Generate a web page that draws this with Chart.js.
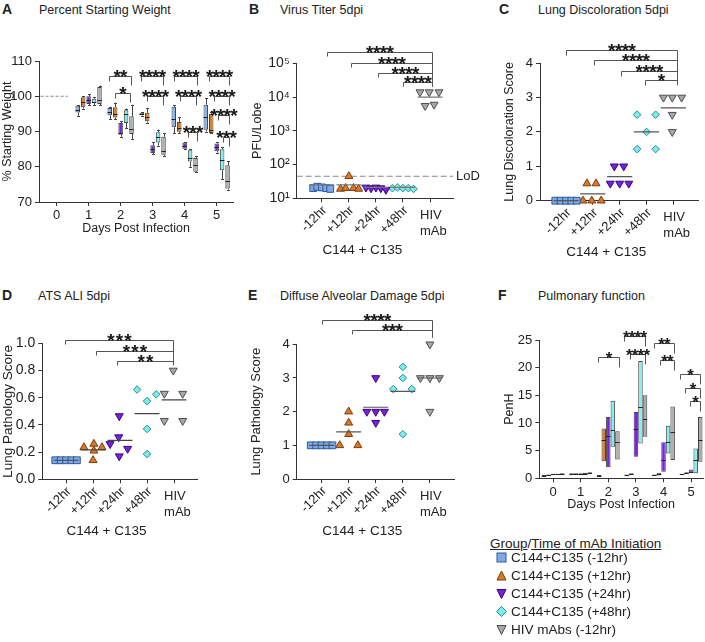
<!DOCTYPE html>
<html>
<head>
<meta charset="utf-8">
<script src="https://cdn.jsdelivr.net/npm/chart.js@4.4.0/dist/chart.umd.min.js"></script>
<style>
  body { margin: 0; background: #fff; width: 705px; height: 642px; position: relative; overflow: hidden;
         font-family: "Liberation Sans", Arial, Helvetica, sans-serif; color: #222; }
  canvas { position: absolute; }
  .letter { position: absolute; font-weight: bold; font-size: 14px; line-height: 16px; }
  .title { position: absolute; font-size: 12.5px; line-height: 16px; }
  #legend { position: absolute; left: 490px; top: 536px; font-size: 13.5px; }
  #legend .head { line-height: 16px; margin-bottom: -3px; }
  #legend .row { height: 17.9px; line-height: 17.9px; white-space: nowrap; }
  #legend svg { vertical-align: -1px; margin: 0 4px 0 6px; }
</style>
</head>
<body>
<div class="letter" style="left:2px;top:1px">A</div><div class="title" style="left:39px;top:2px">Percent Starting Weight</div>
<div class="letter" style="left:249px;top:1px">B</div><div class="title" style="left:280px;top:2px">Virus Titer 5dpi</div>
<div class="letter" style="left:499px;top:1px">C</div><div class="title" style="left:538px;top:2px">Lung Discoloration 5dpi</div>
<div class="letter" style="left:2px;top:287px">D</div><div class="title" style="left:38px;top:288px">ATS ALI 5dpi</div>
<div class="letter" style="left:248px;top:287px">E</div><div class="title" style="left:280px;top:288px">Diffuse Alveolar Damage 5dpi</div>
<div class="letter" style="left:498px;top:287px">F</div><div class="title" style="left:538px;top:288px">Pulmonary function</div>

<canvas id="chartA"></canvas>
<canvas id="chartB"></canvas>
<canvas id="chartC"></canvas>
<canvas id="chartD"></canvas>
<canvas id="chartE"></canvas>
<canvas id="chartF"></canvas>

<div id="legend">
  <div class="head"><u>Group</u>/<u>Time of mAb Initiation</u></div>
  <div id="legendRows"></div>
</div>

<script>
// ---------- shared labels ----------
const groupNames = ['C144+C135 (-12hr)', 'C144+C135 (+12hr)', 'C144+C135 (+24hr)', 'C144+C135 (+48hr)', 'HIV mAbs (-12hr)'];
const categories = ['-12hr', '+12hr', '+24hr', '+48hr', 'HIV\nmAb'];
const categoryCaption = 'C144 + C135';
const dayTicks = [0, 1, 2, 3, 4, 5];

// ---------- A: percent starting weight, [min, q1, median, q3, max] for days 1-5 ----------
const weightDays = [1, 2, 3, 4, 5];
const weightNeg12 = [[94.5, 95.4, 96, 97.3, 97.5], [93.5, 94.6, 95.4, 96.7, 97], [94.5, 94.6, 95, 95.3, 95.5], [89.5, 91.2, 93.5, 97, 97.5], [90, 90.5, 94, 97.6, 99.5]];
const weightPos12 = [[96.5, 96.9, 98.5, 99.7, 100], [93.5, 94, 95, 96.9, 98.2], [92.5, 92.9, 94, 95.3, 96.7], [89.5, 89.9, 91, 92.7, 94], [89.5, 89.6, 90.5, 95, 95.5]];
const weightPos24 = [[97.5, 97.8, 98.8, 100, 100.5], [88.5, 89.1, 89.5, 92.4, 93], [83.5, 83.9, 85, 86.1, 87], [85, 85.1, 86, 86.9, 87], [84, 84.4, 85.5, 86.6, 87]];
const weightPos48 = [[97.5, 98.1, 98.5, 99.3, 99.8], [91, 92.4, 95, 96, 96.5], [86, 86.9, 88.5, 89.8, 90.5], [80, 81.5, 82.5, 84.7, 85], [76.5, 79, 82, 85, 85.5]];
const weightHIV = [[97.5, 97.8, 99, 102.6, 103], [87.9, 89.3, 90.7, 94.3, 97.6], [83, 83.4, 84.5, 88.5, 89.5], [78.4, 78.6, 80.5, 82.5, 83], [73.5, 73.8, 76, 80.4, 81.5]];
const weightTicks = [70, 80, 90, 100, 110];
const weightBaseline = 100;
// significance: [from day position, to day position, y, stars]
const weightSig = [
  [1.63, 2.31, 105.7, '**'], [1.82, 2.29, 100.8, '*'],
  [2.63, 3.32, 105.7, '****'], [2.81, 3.33, 100.0, '****'],
  [3.66, 4.38, 105.7, '****'], [3.85, 4.35, 100.0, '****'], [4.09, 4.40, 89.9, '***'],
  [4.76, 5.40, 105.7, '****'], [4.92, 5.40, 100.2, '****'], [5.04, 5.40, 94.8, '****'], [5.20, 5.40, 88.4, '***']
];

// ---------- B: virus titer (PFU/lobe) ----------
const titerValues = [
  [20, 22, 21, 20, 19],
  [19, 20, 45, 20, 19],
  [21, 20, 21, 20, 18],
  [20, 21, 20, 20, 19],
  [14000, 14000, 14000, 5500, 6000]
];
const titerMeans = [25, 25, 21, 21, 10000];
const titerTicks = [10, 100, 1000, 10000, 100000];
const titerLoD = 45;
const titerSig = [[0.18, 4.06, 10 ** 5.32, '****'], [1.08, 4.06, 10 ** 5.0, '****'], [2.06, 4.06, 10 ** 4.72, '****'], [2.99, 4.06, 10 ** 4.46, '****']];

// ---------- C: lung discoloration score ----------
const discolValues = [
  [0, 0, 0, 0, 0],
  [0, 0.5, 0, 0.5, 0],
  [0.5, 1, 0.5, 1, 0.5],
  [2.5, 1.5, 2, 2.5, 1.5],
  [3, 3, 3, 2.5, 2]
];
const discolMeans = [0, 0.2, 0.7, 2.0, 2.7];
const discolTicks = [0, 1, 2, 3, 4];
const discolSig = [[0, 4.13, 4.37, '****'], [1.04, 4.13, 4.1, '****'], [2.05, 4.13, 3.78, '****'], [2.94, 4.13, 3.5, '*']];

// ---------- D: ATS ALI score ----------
const aliValues = [
  [0.14, 0.14, 0.14, 0.14, 0.14],
  [0.235, 0.26, 0.21, 0.235, 0.14],
  [0.465, 0.31, 0.26, 0.225, 0.17],
  [0.66, 0.575, 0.625, 0.37, 0.186],
  [0.8, 0.63, 0.63, 0.43, 0.43]
];
const aliMeans = [0.14, 0.216, 0.286, 0.483, 0.584];
const aliTicks = [0, 0.2, 0.4, 0.6, 0.8, 1.0];
const aliSig = [[-0.04, 3.97, 1.024, '***'], [1.1, 3.97, 0.943, '***'], [1.9, 3.97, 0.87, '**']];

// ---------- E: diffuse alveolar damage score ----------
const dadValues = [
  [1, 1, 1, 1, 1],
  [2.0, 1.67, 1.33, 1.0, 1.0],
  [3.0, 2.0, 2.0, 2.0, 1.67],
  [3.33, 3.0, 2.67, 2.67, 1.33],
  [4, 3, 3, 3, 2]
];
const dadMeans = [1.0, 1.4, 2.13, 2.6, 3.0];
const dadTicks = [0, 1, 2, 3, 4];
const dadSig = [[0, 4.06, 4.72, '****'], [1.12, 4.06, 4.42, '***']];

// ---------- F: PenH, [min, median, max] for days 0-5 ----------
const penhNeg12 = [[0.4, 0.5, 0.6], [0.7, 0.8, 0.9], [0.4, 0.5, 0.6], [0.5, 0.6, 0.7], [0.5, 0.6, 0.7], [0.6, 0.7, 0.8]];
const penhPos12 = [[0.5, 0.6, 0.7], [0.7, 0.8, 0.9], [3.1, 6.9, 9.0], [0.7, 0.8, 0.9], [0.5, 0.8, 1.0], [0.8, 0.9, 1.1]];
const penhPos24 = [[0.6, 0.7, 0.8], [0.7, 0.8, 0.9], [2.0, 7.6, 11.1], [3.9, 9.0, 12.0], [1.2, 3.3, 6.5], [1.0, 1.2, 1.6]];
const penhPos48 = [[0.6, 0.7, 0.8], [0.7, 0.85, 1.0], [5.7, 8.8, 14.0], [6.3, 12.9, 21.2], [4.5, 6.5, 9.5], [0.9, 3.3, 5.4]];
const penhHIV = [[0.6, 0.7, 0.9], [0.9, 1.0, 1.1], [3.4, 6.5, 8.5], [7.5, 10.8, 15.0], [3.3, 8.3, 13.0], [3.0, 7.0, 11.1]];
const penhTicks = [0, 5, 10, 15, 20, 25];
const penhSig = [
  [1.62, 2.37, 22.0, '*'],
  [2.58, 3.33, 25.7, '****'], [2.79, 3.33, 22.4, '****'],
  [3.67, 4.39, 24.4, '**'], [3.88, 4.39, 21.4, '**'],
  [4.58, 5.33, 18.8, '*'], [4.78, 5.33, 16.4, '*'], [4.96, 5.33, 14.0, '*']
];

// ---------- styling ----------
const groupStyle = [
  { fill: '#7fa9e6', line: '#2c5a9c', shape: 'rect', rot: 0, r: 4.8 },
  { fill: '#d9782b', line: '#7a3d0c', shape: 'triangle', rot: 0, r: 4.6 },
  { fill: '#7b1fe4', line: '#35087a', shape: 'triangle', rot: 180, r: 4.6 },
  { fill: '#7eecec', line: '#2a8c8c', shape: 'rectRot', rot: 0, r: 3.8 },
  { fill: '#a8a8a8', line: '#4e4e4e', shape: 'triangle', rot: 180, r: 4.6 }
];
const boxFill = ['#8ab4ea', '#d9822b', '#7a22e6', '#84f0f0', '#adadad'];
const boxOffsets = [-0.34, -0.17, 0, 0.17, 0.34];
const penhOffsets = [-0.33, -0.165, 0, 0.165, 0.33];
// horizontal spread of dots inside each category
const spreadB = [[-0.32, -0.17, 0, 0.16, 0.31], [-0.31, -0.12, 0, 0.17, 0.36], [-0.37, -0.18, 0, 0.18, 0.37], [-0.39, -0.2, 0, 0.2, 0.39], [-0.37, -0.03, 0.33, -0.18, 0.15]];
const spreadC = [[-0.4, -0.2, 0, 0.2, 0.4], [-0.37, -0.22, -0.04, 0.12, 0.31], [-0.35, -0.2, 0, 0.15, 0.34], [-0.35, -0.35, 0, 0.34, 0.34], [-0.37, -0.04, 0.31, -0.04, -0.04]];
const spreadD = [[-0.4, -0.2, 0, 0.2, 0.4], [-0.34, 0.03, 0.03, 0.33, 0], [-0.03, -0.05, -0.37, 0.28, -0.03], [-0.37, 0, 0.34, 0, 0], [-0.03, -0.36, 0.32, -0.36, 0.32]];
const spreadE = [[-0.4, -0.2, 0, 0.2, 0.4], [0, 0, 0, -0.33, 0.34], [0, -0.33, 0, 0.32, 0], [0, 0, -0.35, 0.33, 0], [0, -0.35, 0, 0.35, 0]];

Chart.defaults.font.family = '"Liberation Sans", Arial, Helvetica, sans-serif';
Chart.defaults.font.size = 12;
Chart.defaults.color = '#222';
Chart.defaults.animation = false;
Chart.defaults.plugins.legend.display = false;
Chart.defaults.plugins.tooltip.enabled = false;

const AXIS = '#333';
const FONT = '"Liberation Sans", Arial, Helvetica, sans-serif';

// ---------- helpers ----------
function yAxis(o) {
  return {
    type: o.type || 'linear', min: o.min, max: o.max,
    afterFit: s => { s.width = o.width; },
    afterBuildTicks: s => { s.ticks = o.ticks.map(v => ({ value: v })); },
    ticks: { callback: o.fmt || (v => v), padding: 3, font: { size: o.tickSize || 13 }, color: '#222' },
    title: { display: true, text: o.title, padding: { top: o.tpad, bottom: 0 }, font: { size: o.titleSize || 12.5 }, color: '#222' },
    grid: { drawOnChartArea: false, tickLength: 4, color: AXIS },
    border: { color: AXIS, width: 1 }
  };
}

function xAxis(o) {
  return {
    type: 'linear', min: o.min, max: o.max, offset: false,
    afterFit: s => { s.height = o.height; },
    afterBuildTicks: s => { s.ticks = o.ticks.map(v => ({ value: v })); },
    ticks: { callback: o.fmt || (v => v), padding: 2, autoSkip: false, maxRotation: 0, minRotation: 0, font: { size: 13 }, color: '#222' },
    title: { display: !!o.title, text: o.title || '', padding: { top: 0, bottom: o.tpad || 0 }, font: { size: 12.5 }, color: '#222' },
    grid: { drawOnChartArea: false, tickLength: 4, color: AXIS, offset: false },
    border: { color: AXIS, width: 1 }
  };
}

function setupCanvas(id, spec) {
  const cv = document.getElementById(id);
  cv.width = spec.w; cv.height = spec.h;
  cv.style.left = spec.left + 'px'; cv.style.top = spec.top + 'px';
  cv.style.width = spec.w + 'px'; cv.style.height = spec.h + 'px';
  return cv;
}

function padFor(spec) {
  return { left: 0, top: spec.t - spec.top, right: spec.left + spec.w - spec.r, bottom: 0 };
}

// significance brackets drawn through the chart's own scales
function bracketPlugin(items, st) {
  return {
    id: 'brackets',
    afterDraw(chart) {
      const { ctx, scales: { x, y } } = chart;
      ctx.save();
      ctx.strokeStyle = '#555'; ctx.lineWidth = 1; ctx.fillStyle = '#1a1a1a';
      ctx.font = 'bold ' + st.size + 'px ' + FONT;
      ctx.textAlign = 'center'; ctx.textBaseline = 'alphabetic';
      items.forEach(([a, b, v, stars]) => {
        const x1 = Math.round(x.getPixelForValue(a)) + 0.5;
        const x2 = Math.round(x.getPixelForValue(b)) + 0.5;
        const py = Math.round(y.getPixelForValue(v)) + 0.5;
        const end2 = st.rightTo !== undefined ? Math.max(py + 4, y.getPixelForValue(st.rightTo)) : py + st.legR;
        ctx.beginPath();
        ctx.moveTo(x1, py + st.legL); ctx.lineTo(x1, py); ctx.lineTo(x2, py); ctx.lineTo(x2, end2);
        ctx.stroke();
        const mid = (x1 + x2) / 2;
        for (let k = 0; k < stars.length; k++) {
          ctx.fillText('*', mid + (k - (stars.length - 1) / 2) * st.step, py + st.dy);
        }
      });
      ctx.restore();
    }
  };
}

// rotated category labels + caption under the first four groups
function categoryPlugin(extra) {
  return {
    id: 'categories',
    afterDraw(chart) {
      const { ctx, scales: { x }, chartArea } = chart;
      const yb = chartArea.bottom;
      ctx.save();
      ctx.fillStyle = '#222';
      ctx.font = '13px ' + FONT;
      categories.forEach((t, i) => {
        const px = x.getPixelForValue(i);
        if (t.includes('\n')) {
          ctx.textAlign = 'left'; ctx.textBaseline = 'middle';
          t.split('\n').forEach((line, k) => ctx.fillText(line, px - 10, yb + 17 + k * 16));
        } else {
          ctx.save();
          ctx.translate(px + 3, yb + 10);
          ctx.rotate(-Math.PI / 4);
          ctx.textAlign = 'right'; ctx.textBaseline = 'middle';
          ctx.fillText(t, 0, 0);
          ctx.restore();
        }
      });
      ctx.font = '13.5px ' + FONT;
      ctx.textAlign = 'center'; ctx.textBaseline = 'middle';
      ctx.fillText(categoryCaption, (x.getPixelForValue(0) + x.getPixelForValue(3)) / 2, yb + 52);
      if (extra) extra(chart);
      ctx.restore();
    }
  };
}

// whiskers and medians for floating-bar boxes
const boxPlugin = {
  id: 'boxparts',
  beforeDatasetsDraw(chart) {
    const { ctx, scales: { x, y } } = chart;
    ctx.save();
    chart.data.datasets.forEach(ds => {
      if (!ds.stats || ds.stats[0].length < 5) return;
      ctx.strokeStyle = ds.borderColor; ctx.lineWidth = 1;
      ds.stats.forEach((s, k) => {
        const px = Math.round(x.getPixelForValue(ds.data[k].x)) + 0.5;
        const p = s.map(v => y.getPixelForValue(v));
        ctx.beginPath();
        ctx.moveTo(px, p[0]); ctx.lineTo(px, p[1]);
        ctx.moveTo(px, p[3]); ctx.lineTo(px, p[4]);
        ctx.moveTo(px - 1.5, Math.round(p[0]) + 0.5); ctx.lineTo(px + 1.5, Math.round(p[0]) + 0.5);
        ctx.moveTo(px - 1.5, Math.round(p[4]) + 0.5); ctx.lineTo(px + 1.5, Math.round(p[4]) + 0.5);
        ctx.stroke();
      });
    });
    ctx.restore();
  },
  afterDatasetsDraw(chart) {
    const { ctx, scales: { x, y } } = chart;
    ctx.save();
    chart.data.datasets.forEach(ds => {
      if (!ds.stats) return;
      ctx.strokeStyle = '#222'; ctx.lineWidth = 1;
      const half = ds.barThickness / 2;
      ds.stats.forEach((s, k) => {
        const px = x.getPixelForValue(ds.data[k].x);
        const py = Math.round(y.getPixelForValue(s[s.length === 5 ? 2 : 1])) + 0.5;
        ctx.beginPath(); ctx.moveTo(px - half, py); ctx.lineTo(px + half, py); ctx.stroke();
      });
    });
    ctx.restore();
  }
};

function boxSets(groups, days, offsets, thickness) {
  return groups.map((g, gi) => ({
    type: 'bar',
    data: g.map((s, di) => ({ x: days[di] + offsets[gi], y: s.length === 5 ? [s[1], s[3]] : [s[0], s[2]] })),
    stats: g,
    backgroundColor: boxFill[gi],
    borderColor: '#444',
    borderWidth: 1,
    borderSkipped: false,
    barThickness: thickness,
    grouped: false,
    inflateAmount: 0
  }));
}

function pointSets(values, spread) {
  return values.map((vals, gi) => ({
    type: 'scatter',
    data: vals.map((v, k) => ({ x: gi + spread[gi][k], y: v })),
    pointStyle: groupStyle[gi].shape,
    pointRotation: groupStyle[gi].rot,
    pointRadius: groupStyle[gi].r,
    pointBackgroundColor: groupStyle[gi].fill,
    pointBorderColor: groupStyle[gi].line,
    pointBorderWidth: 1,
    showLine: false,
    clip: false
  }));
}

function meanSet(means, half, color) {
  const pts = [];
  means.forEach((m, i) => { pts.push({ x: i - half, y: m }, { x: i + half, y: m }, { x: i + 0.5, y: null }); });
  return { type: 'line', data: pts, borderColor: color || '#444', borderWidth: 1.2, pointRadius: 0, spanGaps: false, clip: false };
}

// ---------- Panel A ----------
(function () {
  const spec = { left: 0, top: 30, w: 240, h: 220, l: 39, r: 233, t: 61, b: 202 };
  const cv = setupCanvas('chartA', spec);
  const sets = boxSets([weightNeg12, weightPos12, weightPos24, weightPos48, weightHIV], weightDays, boxOffsets, 4.5);
  sets.push({ type: 'line', data: [{ x: -0.5, y: weightBaseline }, { x: 0.35, y: weightBaseline }], borderColor: '#888', borderWidth: 1, borderDash: [3, 2], pointRadius: 0 });
  new Chart(cv, {
    type: 'bar',
    data: { datasets: sets },
    options: {
      responsive: false,
      layout: { padding: padFor(spec) },
      scales: {
        x: xAxis({ min: -0.55, max: 5.51, ticks: dayTicks, height: spec.top + spec.h - spec.b, title: 'Days Post Infection', tpad: 13.5 }),
        y: yAxis({ min: 70, max: 110, ticks: weightTicks, width: spec.l - spec.left, title: '% Starting Weight', tpad: 0.5 })
      }
    },
    plugins: [boxPlugin, bracketPlugin(weightSig, { size: 19, step: 6.6, dy: 6, legL: 5, legR: 9 })]
  });
})();

// ---------- Panel B ----------
(function () {
  const spec = { left: 240, top: 30, w: 245, h: 240, l: 296.7, r: 453, t: 63.3, b: 198.3 };
  const cv = setupCanvas('chartB', spec);
  const sup = ['\u2070', '\u00b9', '\u00b2', '\u00b3', '\u2074', '\u2075'];
  const sets = [meanSet(titerMeans, 0.46, '#777')].concat(pointSets(titerValues, spreadB));
  sets.push({ type: 'line', data: [{ x: -0.93, y: titerLoD }, { x: 4.85, y: titerLoD }], borderColor: '#888', borderWidth: 1, borderDash: [6, 3], pointRadius: 0 });
  new Chart(cv, {
    type: 'scatter',
    data: { datasets: sets },
    options: {
      responsive: false,
      layout: { padding: padFor(spec) },
      scales: {
        x: xAxis({ min: -0.93, max: 4.85, ticks: [0, 1, 2, 3, 4], height: spec.top + spec.h - spec.b, fmt: () => '' }),
        y: yAxis({ type: 'logarithmic', min: 10, max: 100000, ticks: titerTicks, width: spec.l - spec.left, title: 'PFU/Lobe', tpad: 10, tickSize: 14,
                   fmt: v => '10' + sup[Math.round(Math.log10(v))] })
      }
    },
    plugins: [
      bracketPlugin(titerSig, { size: 19, step: 6.8, dy: 6, legL: 4, rightTo: 10 ** 4.3 }),
      categoryPlugin(chart => {
        const { ctx, scales: { y }, chartArea } = chart;
        ctx.font = '13px ' + FONT; ctx.textAlign = 'left'; ctx.textBaseline = 'middle';
        ctx.fillText('LoD', chartArea.right + 3, y.getPixelForValue(titerLoD));
      })
    ]
  });
})();

// ---------- Panel C ----------
(function () {
  const spec = { left: 470, top: 30, w: 235, h: 240, l: 540, r: 698, t: 63.1, b: 200.7 };
  const cv = setupCanvas('chartC', spec);
  const sets = [meanSet(discolMeans, 0.47, '#555')].concat(pointSets(discolValues, spreadC));
  new Chart(cv, {
    type: 'scatter',
    data: { datasets: sets },
    options: {
      responsive: false,
      layout: { padding: padFor(spec) },
      scales: {
        x: xAxis({ min: -0.97, max: 4.92, ticks: [0, 1, 2, 3, 4], height: spec.top + spec.h - spec.b, fmt: () => '' }),
        y: yAxis({ min: 0, max: 4, ticks: discolTicks, width: spec.l - spec.left, title: 'Lung Discoloration Score', tpad: 32.5 })
      }
    },
    plugins: [bracketPlugin(discolSig, { size: 19, step: 6.8, dy: 6, legL: 5, rightTo: 3.36 }), categoryPlugin()]
  });
})();

// ---------- Panel D ----------
(function () {
  const spec = { left: 0, top: 305, w: 240, h: 240, l: 42.3, r: 197, t: 343.3, b: 479.3 };
  const cv = setupCanvas('chartD', spec);
  const sets = [meanSet(aliMeans, 0.46, '#444')].concat(pointSets(aliValues, spreadD));
  new Chart(cv, {
    type: 'scatter',
    data: { datasets: sets },
    options: {
      responsive: false,
      layout: { padding: padFor(spec) },
      scales: {
        x: xAxis({ min: -0.88, max: 4.85, ticks: [0, 1, 2, 3, 4], height: spec.top + spec.h - spec.b, fmt: () => '' }),
        y: yAxis({ min: 0, max: 1, ticks: aliTicks, width: spec.l - spec.left, title: 'Lung Pathology Score', tpad: 0, tickSize: 14, titleSize: 13.5, fmt: v => v.toFixed(1) })
      }
    },
    plugins: [bracketPlugin(aliSig, { size: 19, step: 8.5, dy: 6, legL: 4, rightTo: 0.84 }), categoryPlugin()]
  });
})();

// ---------- Panel E ----------
(function () {
  const spec = { left: 240, top: 305, w: 240, h: 240, l: 296.7, r: 454, t: 344.3, b: 479 };
  const cv = setupCanvas('chartE', spec);
  const sets = [meanSet(dadMeans, 0.46, '#555')].concat(pointSets(dadValues, spreadE));
  new Chart(cv, {
    type: 'scatter',
    data: { datasets: sets },
    options: {
      responsive: false,
      layout: { padding: padFor(spec) },
      scales: {
        x: xAxis({ min: -0.92, max: 4.89, ticks: [0, 1, 2, 3, 4], height: spec.top + spec.h - spec.b, fmt: () => '' }),
        y: yAxis({ min: 0, max: 4, ticks: dadTicks, width: spec.l - spec.left, title: 'Lung Pathology Score', tpad: 9, titleSize: 13 })
      }
    },
    plugins: [bracketPlugin(dadSig, { size: 19, step: 6.8, dy: 6, legL: 4, rightTo: 4.2 }), categoryPlugin()]
  });
})();

// ---------- Panel F ----------
(function () {
  const spec = { left: 470, top: 305, w: 235, h: 215, l: 539.3, r: 703, t: 340, b: 478.3 };
  const cv = setupCanvas('chartF', spec);
  const sets = boxSets([penhNeg12, penhPos12, penhPos24, penhPos48, penhHIV], dayTicks, penhOffsets, 4.5);
  new Chart(cv, {
    type: 'bar',
    data: { datasets: sets },
    options: {
      responsive: false,
      layout: { padding: padFor(spec) },
      scales: {
        x: xAxis({ min: -0.5, max: 5.43, ticks: dayTicks, height: spec.top + spec.h - spec.b, title: 'Days Post Infection', tpad: 7.5 }),
        y: yAxis({ min: 0, max: 25, ticks: penhTicks, width: spec.l - spec.left, title: 'PenH', tpad: 32.5 })
      }
    },
    plugins: [boxPlugin, bracketPlugin(penhSig, { size: 17, step: 5.8, dy: 6, legL: 5, legR: 10 })]
  });
})();

// ---------- legend ----------
(function () {
  const shapes = {
    rect: '<rect x="1" y="1" width="9" height="9"/>',
    triangle0: '<polygon points="5.5,1 10,10 1,10"/>',
    triangle180: '<polygon points="1,1.5 10,1.5 5.5,10.5"/>',
    rectRot0: '<polygon points="5.5,0.5 10.5,5.5 5.5,10.5 0.5,5.5"/>'
  };
  const rows = document.getElementById('legendRows');
  groupNames.forEach((name, i) => {
    const g = groupStyle[i];
    const key = g.shape === 'rect' ? 'rect' : g.shape + g.rot;
    const row = document.createElement('div');
    row.className = 'row';
    row.innerHTML = '<svg width="11" height="11" viewBox="0 0 11 11" fill="' + g.fill + '" stroke="' + g.line + '" stroke-width="1">' +
      shapes[key] + '</svg>' + name;
    rows.appendChild(row);
  });
})();
</script>
</body>
</html>
